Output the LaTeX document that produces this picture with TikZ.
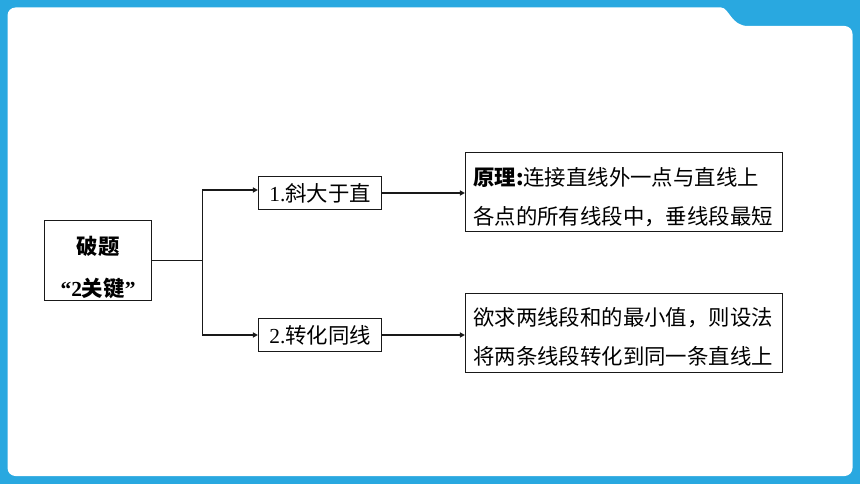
\documentclass[tikz,border=0pt]{standalone}
\usepackage{fontspec}
\setmainfont{Liberation Serif}
\newfontfamily\cjk{Noto Sans CJK SC}
\usetikzlibrary{arrows.meta}
\definecolor{frameblue}{RGB}{41,168,224}
\definecolor{ink}{RGB}{25,25,25}
\tikzset{
  box/.style={draw=ink, line width=1.5pt, inner sep=0pt, fill=white},
  conn/.style={draw=ink, line width=1.5pt},
  arr/.style={conn, -{Triangle[length=5pt,width=5pt]}},
  txt/.style={font=\fontsize{21.4}{39}\selectfont\cjk, text width=302pt, align=left, inner sep=0pt},
  bigbox/.style={box, minimum width=317pt, minimum height=79pt}
}
\begin{document}
\begin{tikzpicture}[x=1pt,y=-1pt]
\useasboundingbox (0,0) rectangle (860,484);
\fill[frameblue] (0,0) rectangle (860,484);
\fill[white] (7.5,300) [rounded corners=8pt] -- (7.5,7.5) -- (713,7.5) [sharp corners]
  .. controls (729,7.5) and (731,26) .. (748,26) [rounded corners=8pt]
  -- (852.5,26) -- (852.5,476) -- (7.5,476) [sharp corners] -- cycle;

\node[box, minimum width=107.4pt, minimum height=80pt,
      label={[align=center, inner sep=0pt, yshift=-7pt, font=\fontsize{21.4}{42.5}\selectfont\bfseries]center:{\cjk 破题}\\“2{\cjk 关键}”}] (m) at (98,260.7) {};

\node[box, minimum width=123pt, minimum height=32.6pt, font=\fontsize{21.4}{25}\selectfont] (b1) at (320.2,193)
  {1.{\cjk 斜大于直}};
\node[box, minimum width=123pt, minimum height=33.4pt, font=\fontsize{21.4}{25}\selectfont] (b2) at (320.2,335)
  {2.{\cjk 转化同线}};

\node[bigbox, label={[txt, yshift=-4.5pt]center:{\bfseries 原理:}连接直线外一点与直线上\\各点的所有线段中，垂线段最短}] (ra) at (624.2,192.2) {};
\node[bigbox, label={[txt, yshift=-4.5pt]center:欲求两线段和的最小值，则设法\\将两条线段转化到同一条直线上}] (rb) at (624.2,332.8) {};

\draw[conn] (m.east) -- ++(50,0) coordinate (j);
\draw[arr] (j) |- ([yshift=3pt]b1.west);
\draw[arr] (j) |- (b2.west);
\draw[arr] (b1.east) -- (b1.east -| ra.west);
\draw[arr] (b2.east) -- (b2.east -| rb.west);
\end{tikzpicture}
\end{document}
